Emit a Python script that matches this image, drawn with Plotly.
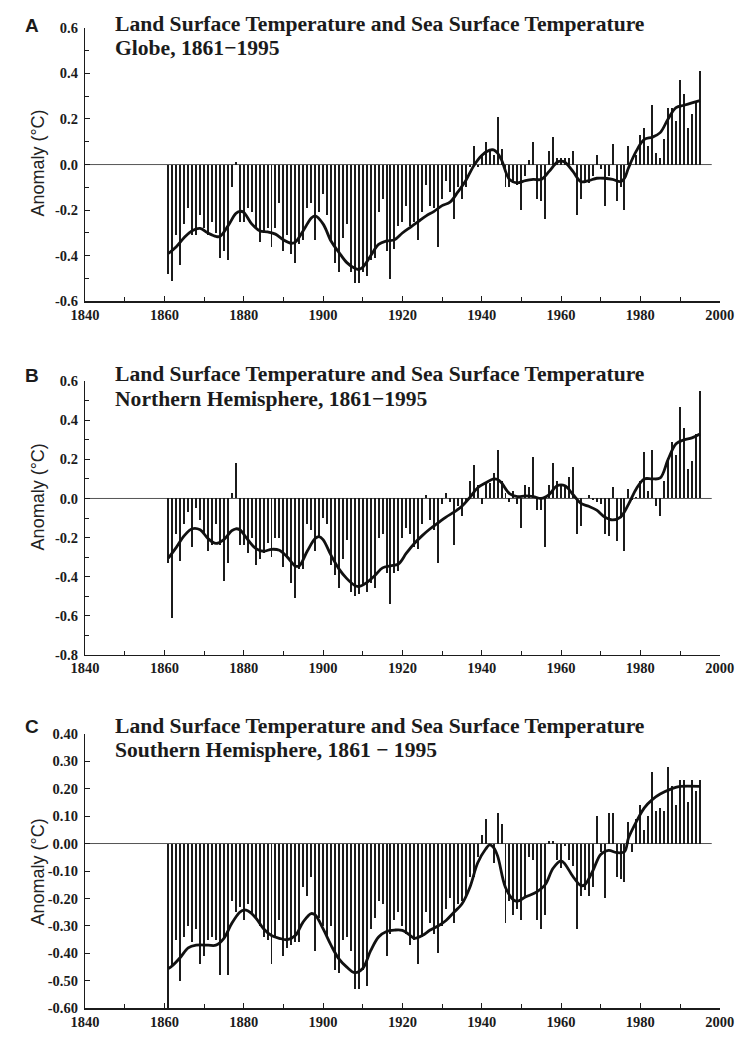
import plotly.graph_objects as go

W, H = 751, 1039

years = list(range(1861, 1996))

globe_anom = [
    -0.48, -0.51, -0.31, -0.44, -0.26, -0.19, -0.31, -0.31, -0.22, -0.28,
    -0.31, -0.25, -0.30, -0.41, -0.38, -0.42, -0.10, 0.01, -0.25, -0.25,
    -0.19, -0.21, -0.28, -0.34, -0.30, -0.28, -0.36, -0.28, -0.17, -0.38,
    -0.31, -0.39, -0.43, -0.35, -0.33, -0.19, -0.17, -0.33, -0.21, -0.13,
    -0.22, -0.34, -0.43, -0.47, -0.32, -0.26, -0.47, -0.52, -0.52, -0.47,
    -0.49, -0.42, -0.41, -0.21, -0.15, -0.38, -0.50, -0.37, -0.27, -0.25,
    -0.18, -0.27, -0.25, -0.33, -0.21, -0.09, -0.18, -0.19, -0.36, -0.15,
    -0.07, -0.12, -0.24, -0.10, -0.15, -0.10, -0.01, 0.08, -0.01, 0.04,
    0.10, 0.06, 0.04, 0.21, 0.07, -0.10, -0.10, -0.08, -0.09, -0.20,
    -0.05, 0.02, 0.10, -0.15, -0.16, -0.24, 0.06, 0.12, 0.03, 0.03,
    0.03, 0.03, 0.06, -0.22, -0.15, -0.08, -0.08, -0.05, 0.04, -0.02,
    -0.18, -0.05, 0.09, -0.16, -0.10, -0.20, 0.08, 0.00, 0.04, 0.13,
    0.16, 0.08, 0.26, 0.05, 0.03, 0.11, 0.25, 0.25, 0.19, 0.37,
    0.31, 0.16, 0.22, 0.27, 0.41,
]

nh_anom = [
    -0.33, -0.61, -0.18, -0.32, -0.13, -0.07, -0.25, -0.05, -0.11, -0.18,
    -0.27, -0.24, -0.13, -0.24, -0.42, -0.33, 0.03, 0.18, -0.24, -0.24,
    -0.28, -0.20, -0.34, -0.31, -0.28, -0.23, -0.30, -0.20, -0.20, -0.35,
    -0.30, -0.43, -0.51, -0.36, -0.36, -0.13, -0.16, -0.27, -0.20, -0.10,
    -0.13, -0.34, -0.39, -0.46, -0.31, -0.21, -0.48, -0.50, -0.49, -0.45,
    -0.48, -0.43, -0.46, -0.20, -0.18, -0.38, -0.54, -0.38, -0.37, -0.20,
    -0.15, -0.18, -0.25, -0.26, -0.13, 0.02, -0.11, -0.16, -0.33, -0.03,
    0.03, -0.02, -0.24, -0.04, -0.09, -0.02, 0.09, 0.17, 0.07, -0.03,
    0.08, 0.08, 0.13, 0.25, 0.09, 0.03, -0.02, 0.04, -0.03, -0.15,
    0.07, 0.06, 0.21, -0.06, -0.06, -0.25, 0.07, 0.18, 0.09, 0.07,
    0.07, 0.11, 0.16, -0.18, -0.14, 0.00, 0.02, -0.01, -0.02, -0.03,
    -0.18, -0.19, 0.06, -0.22, -0.10, -0.27, 0.05, -0.01, 0.01, 0.09,
    0.24, 0.04, 0.25, -0.04, -0.09, 0.09, 0.20, 0.29, 0.22, 0.47,
    0.36, 0.15, 0.19, 0.33, 0.55,
]

sh_anom = [
    -0.62, -0.45, -0.35, -0.50, -0.34, -0.30, -0.36, -0.31, -0.44, -0.41,
    -0.35, -0.34, -0.35, -0.48, -0.34, -0.48, -0.21, -0.25, -0.23, -0.28,
    -0.22, -0.26, -0.27, -0.30, -0.34, -0.35, -0.44, -0.34, -0.28, -0.41,
    -0.38, -0.37, -0.36, -0.36, -0.16, -0.19, -0.12, -0.39, -0.27, -0.30,
    -0.34, -0.30, -0.46, -0.47, -0.35, -0.34, -0.39, -0.53, -0.53, -0.46,
    -0.52, -0.31, -0.27, -0.21, -0.22, -0.41, -0.33, -0.28, -0.25, -0.30,
    -0.33, -0.37, -0.35, -0.44, -0.34, -0.25, -0.29, -0.33, -0.40, -0.30,
    -0.24, -0.20, -0.29, -0.22, -0.21, -0.19, -0.12, -0.12, -0.05, 0.03,
    0.09, -0.01, -0.07, 0.11, 0.07, -0.29, -0.21, -0.26, -0.24, -0.28,
    -0.19, -0.05, -0.06, -0.28, -0.31, -0.26, 0.01, 0.01, -0.06, -0.09,
    -0.01, -0.06, -0.08, -0.31, -0.19, -0.17, -0.19, -0.16, 0.10, -0.03,
    -0.20, 0.11, 0.11, -0.12, -0.13, -0.14, 0.08, -0.03, 0.09, 0.14,
    0.05, 0.10, 0.26, 0.12, 0.13, 0.12, 0.28, 0.21, 0.14, 0.23,
    0.23, 0.15, 0.23, 0.19, 0.23,
]

# smoothed curves
globe_smooth_years = [1861, 1863, 1865, 1867, 1869, 1871, 1873, 1874, 1876, 1878, 1879, 1880,
                      1882, 1884, 1886, 1888, 1890, 1892, 1893, 1895, 1897, 1898, 1900, 1902,
                      1904, 1906, 1908, 1909, 1910, 1912, 1914, 1916, 1918, 1920, 1922, 1924,
                      1926, 1928, 1930, 1932, 1934, 1936, 1938, 1940, 1942, 1943, 1944, 1945,
                      1947, 1949, 1951, 1953, 1955, 1957, 1959, 1960, 1961, 1963, 1965, 1967,
                      1969, 1971, 1973, 1975, 1976, 1977, 1979, 1981, 1983, 1985, 1987, 1989,
                      1991, 1993, 1995]
globe_smooth = [-0.39, -0.36, -0.32, -0.29, -0.28, -0.30, -0.315, -0.315, -0.27, -0.215, -0.205, -0.21,
                -0.26, -0.29, -0.295, -0.305, -0.33, -0.345, -0.34, -0.29, -0.235, -0.225, -0.26, -0.335,
                -0.385, -0.43, -0.455, -0.46, -0.45, -0.40, -0.35, -0.335, -0.33, -0.30, -0.275, -0.25,
                -0.225, -0.205, -0.18, -0.165, -0.12, -0.07, -0.005, 0.04, 0.063, 0.064, 0.05, 0.02,
                -0.065, -0.08, -0.07, -0.065, -0.065, -0.03, 0.01, 0.015, 0.01, -0.03, -0.075, -0.07,
                -0.06, -0.06, -0.065, -0.075, -0.06, -0.015, 0.06, 0.11, 0.12, 0.14, 0.20, 0.25,
                0.26, 0.27, 0.28]

nh_smooth_years = [1861, 1863, 1865, 1867, 1869, 1871, 1873, 1875, 1877, 1878, 1879, 1881,
                   1883, 1885, 1887, 1889, 1891, 1893, 1894, 1896, 1898, 1899, 1900, 1902,
                   1904, 1906, 1908, 1909, 1911, 1913, 1915, 1917, 1919, 1921, 1923, 1925,
                   1927, 1929, 1931, 1933, 1935, 1937, 1939, 1941, 1943, 1944, 1945, 1947,
                   1949, 1951, 1953, 1955, 1957, 1959, 1961, 1963, 1965, 1967, 1969, 1971,
                   1973, 1975, 1977, 1979, 1981, 1983, 1985, 1987, 1989, 1991, 1993, 1995]
nh_smooth = [-0.305, -0.25, -0.19, -0.155, -0.16, -0.205, -0.23, -0.21, -0.165, -0.155, -0.16, -0.21,
             -0.255, -0.27, -0.26, -0.265, -0.30, -0.345, -0.345, -0.27, -0.205, -0.195, -0.21, -0.29,
             -0.36, -0.41, -0.445, -0.45, -0.43, -0.395, -0.355, -0.345, -0.335, -0.28, -0.23, -0.19,
             -0.155, -0.125, -0.095, -0.07, -0.04, 0.005, 0.055, 0.08, 0.10, 0.097, 0.08, 0.025,
             0.01, 0.013, 0.01, 0.0, 0.02, 0.065, 0.065, 0.02, -0.025, -0.04, -0.06, -0.095,
             -0.11, -0.095, -0.03, 0.05, 0.10, 0.10, 0.105, 0.20, 0.28, 0.30, 0.31, 0.33]

sh_smooth_years = [1861, 1862, 1864, 1866, 1868, 1871, 1873, 1875, 1877, 1879, 1880, 1881,
                   1883, 1885, 1887, 1889, 1891, 1893, 1895, 1897, 1898, 1900, 1902, 1904,
                   1906, 1908, 1910, 1912, 1914, 1916, 1918, 1920, 1922, 1923, 1925, 1927,
                   1929, 1931, 1933, 1935, 1937, 1939, 1941, 1942, 1943, 1944, 1946, 1948,
                   1949, 1951, 1954, 1956, 1958, 1960, 1961, 1963, 1965, 1966, 1968, 1970,
                   1972, 1974, 1976, 1977, 1979, 1981, 1983, 1985, 1988, 1990, 1995]
sh_smooth = [-0.455, -0.445, -0.415, -0.38, -0.37, -0.37, -0.37, -0.345, -0.29, -0.25, -0.242, -0.245,
             -0.27, -0.31, -0.335, -0.345, -0.35, -0.335, -0.285, -0.255, -0.26, -0.31, -0.37, -0.42,
             -0.45, -0.47, -0.455, -0.39, -0.34, -0.32, -0.315, -0.316, -0.335, -0.345, -0.335, -0.315,
             -0.30, -0.28, -0.25, -0.22, -0.16, -0.07, -0.02, -0.005, -0.015, -0.045, -0.16, -0.205,
             -0.21, -0.195, -0.175, -0.15, -0.09, -0.063, -0.075, -0.12, -0.153, -0.15, -0.10, -0.04,
             -0.025, -0.033, -0.03, 0.02, 0.08, 0.13, 0.16, 0.18, 0.20, 0.208, 0.208]

titles_line1 = ["Land Surface Temperature and Sea Surface Temperature"] * 3
titles_line2 = ["Globe, 1861\u22121995", "Northern Hemisphere, 1861\u22121995",
                "Southern Hemisphere, 1861 \u2212 1995"]
panel_letters = ["A", "B", "C"]

x_tick_vals = [1840, 1860, 1880, 1900, 1920, 1940, 1960, 1980, 2000]
x_tick_text = ["1840", "1860", "1880", "1900", "1920", "1940", "1960", "1980", "2000"]
x_minor_vals = [1850, 1870, 1890, 1910, 1930, 1950, 1970, 1990]

yA_vals = [-0.6, -0.4, -0.2, 0.0, 0.2, 0.4, 0.6]
yA_text = ["-0.6", "-0.4", "-0.2", "0.0", "0.2", "0.4", "0.6"]
yA_minor = [-0.5, -0.3, -0.1, 0.1, 0.3, 0.5]
yB_vals = [-0.8, -0.6, -0.4, -0.2, 0.0, 0.2, 0.4, 0.6]
yB_text = ["-0.8", "-0.6", "-0.4", "-0.2", "0.0", "0.2", "0.4", "0.6"]
yB_minor = [-0.7, -0.5, -0.3, -0.1, 0.1, 0.3, 0.5]
yC_vals = [-0.6, -0.5, -0.4, -0.3, -0.2, -0.1, 0.0, 0.1, 0.2, 0.3, 0.4]
yC_text = ["-0.60", "-0.50", "-0.40", "-0.30", "-0.20", "-0.10", "0.00",
           "0.10", "0.20", "0.30", "0.40"]

# ---- layout geometry (pixels) ----
X_LEFT, X_RIGHT = 73, 734
panels = [
    dict(top=20, bottom=298, yrange=[-0.6, 0.6], tv=yA_vals, tt=yA_text, minor=yA_minor,
         title_y=16, letter_y=18, ylab_y=158),
    dict(top=379, bottom=657, yrange=[-0.8, 0.6], tv=yB_vals, tt=yB_text, minor=yB_minor,
         title_y=372, letter_y=373, ylab_y=497),
    dict(top=737, bottom=1016, yrange=[-0.6, 0.4], tv=yC_vals, tt=yC_text, minor=None,
         title_y=729, letter_y=730, ylab_y=878),
]
series = [(globe_anom, globe_smooth_years, globe_smooth),
          (nh_anom, nh_smooth_years, nh_smooth),
          (sh_anom, sh_smooth_years, sh_smooth)]

INK = "#1b1b1b"
tick_font = dict(family="Liberation Serif", size=14.5, color=INK, weight="bold")
title_font = dict(family="Liberation Serif", size=21.6, color=INK, weight="bold")

fig = go.Figure()
layout = dict(
    width=W, height=H, margin=dict(l=0, r=0, t=0, b=0),
    paper_bgcolor="white", plot_bgcolor="white", showlegend=False,
    bargap=0, annotations=[], shapes=[],
)

for i, (p, (anom, sy, sv)) in enumerate(zip(panels, series)):
    n = "" if i == 0 else str(i + 1)
    xa, ya = "x" + n, "y" + n
    fig.add_trace(go.Bar(x=years, y=anom, width=0.5, marker=dict(color=INK, line=dict(width=0)),
                         xaxis=xa, yaxis=ya, hoverinfo="x+y"))
    fig.add_trace(go.Scatter(x=sy, y=sv, mode="lines",
                             line=dict(color="#111111", width=2.8, shape="spline", smoothing=1.0),
                             xaxis=xa, yaxis=ya, hoverinfo="skip"))
    ydom = [1 - p["bottom"] / H, 1 - p["top"] / H]
    layout["xaxis" + n] = dict(
        domain=[X_LEFT / W, X_RIGHT / W], range=[1840, 2000], anchor=ya,
        showline=True, linecolor=INK, linewidth=1.2, mirror=False,
        ticks="inside", ticklen=5, tickwidth=1, tickcolor=INK,
        tickmode="array", tickvals=x_tick_vals, ticktext=x_tick_text,
        tickfont=tick_font, showgrid=False, zeroline=False, fixedrange=True,
        minor=dict(tickmode="array", tickvals=x_minor_vals, ticks="inside",
                   ticklen=4, tickwidth=1, tickcolor=INK, showgrid=False),
    )
    ydict = dict(
        domain=ydom, range=p["yrange"], anchor=xa,
        showline=True, linecolor=INK, linewidth=1.2,
        ticks="inside", ticklen=5, tickwidth=1, tickcolor=INK,
        tickmode="array", tickvals=p["tv"], ticktext=p["tt"],
        tickfont=tick_font, showgrid=False, zeroline=False, fixedrange=True,
        ticklabelstandoff=3,
    )
    if p["minor"]:
        ydict["minor"] = dict(tickmode="array", tickvals=p["minor"], ticks="inside",
                              ticklen=4, tickwidth=1, tickcolor=INK, showgrid=False)
    layout["yaxis" + n] = ydict

    # zero reference line
    layout["shapes"].append(dict(type="line", xref=xa, yref=ya, x0=1840, x1=1998, y0=0, y1=0,
                                 line=dict(color="#555555", width=1), layer="below"))

    # titles
    layout["annotations"].append(dict(
        text=titles_line1[i], x=102 / W, y=1 - p["title_y"] / H, xref="paper", yref="paper",
        xanchor="left", yanchor="middle", showarrow=False, font=title_font))
    layout["annotations"].append(dict(
        text=titles_line2[i], x=102 / W, y=1 - (p["title_y"] + 25) / H, xref="paper", yref="paper",
        xanchor="left", yanchor="middle", showarrow=False, font=title_font))
    layout["annotations"].append(dict(
        text=panel_letters[i], x=18 / W, y=1 - p["letter_y"] / H, xref="paper", yref="paper",
        xanchor="center", yanchor="middle", showarrow=False,
        font=dict(family="Liberation Sans", size=19, color=INK, weight="bold")))
    layout["annotations"].append(dict(
        text="Anomaly (°C)", x=24 / W, y=1 - p["ylab_y"] / H, xref="paper", yref="paper",
        xanchor="center", yanchor="middle", textangle=-90, showarrow=False,
        font=dict(family="Liberation Sans", size=18, color="#222222")))

fig.update_layout(**layout)
fig.write_html("out.html",
               config={"displayModeBar": False, "staticPlot": True},
               post_script="document.body.style.margin='0';document.body.style.padding='0';")
